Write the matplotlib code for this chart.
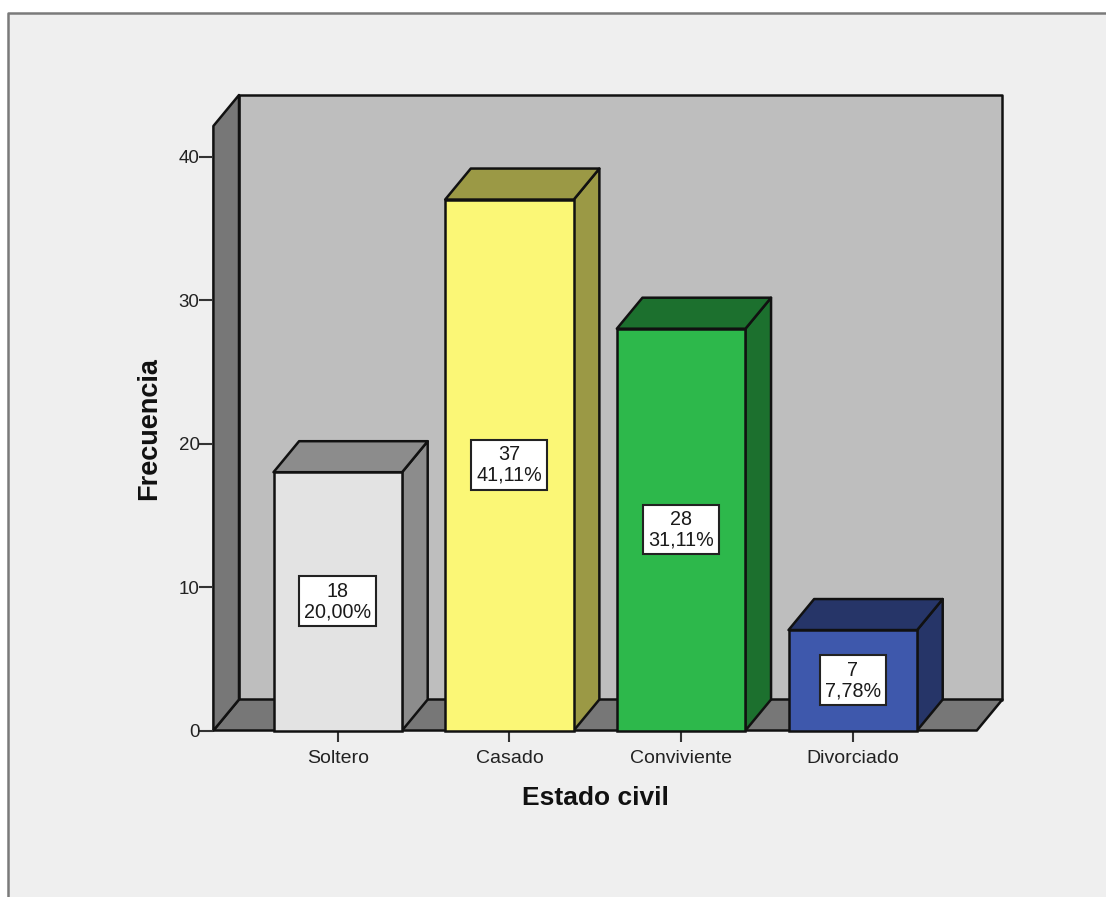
import matplotlib.pyplot as plt
from matplotlib.patches import Polygon, Rectangle
from matplotlib.lines import Line2D

categorias = ['Soltero', 'Casado', 'Conviviente', 'Divorciado']
frecuencias = [18, 37, 28, 7]
porcentajes = ['20,00%', '41,11%', '31,11%', '7,78%']
y_ticks = [0, 10, 20, 30, 40]

color_frente = ['#e3e3e3', '#fbf776', '#2db84b', '#3e58ac']
color_tapa = ['#8c8c8c', '#9b9945', '#1c702e', '#263568']

W, H = 1106, 897
FONDO = '#efefef'
BORDE = '#111111'

plt.rcParams['font.family'] = ['Liberation Sans', 'DejaVu Sans']

fig = plt.figure(figsize=(W / 100, H / 100), dpi=100, facecolor='white')

# marco del visor: solo arriba y a la izquierda, por debajo de los ejes
fig.add_artist(Rectangle((8 / W, 0), 1 - 8 / W, 1 - 13 / H, transform=fig.transFigure,
                         facecolor=FONDO, edgecolor='none', zorder=-2))
fig.add_artist(Line2D([8.2 / W, 8.2 / W, 1], [0, 1 - 13.2 / H, 1 - 13.2 / H], transform=fig.transFigure,
                      color='#7a7a7a', lw=1.8, zorder=-1))

left, right, bottom, top = 213.4, 976.8, 730.5, 126
ax = fig.add_axes([left / W, 1 - bottom / H, (right - left) / W, (bottom - top) / H])
ax.patch.set_alpha(0)

px_x = 171.67
px_y = 14.35
centro = 337.8
ax.set_xlim(-(centro - left) / px_x, (right - centro) / px_x)
ax.set_ylim(0, (bottom - top) / px_y)

# profundidad del efecto 3D en unidades de datos
dx = 25.6 / px_x
dy = 31 / px_y
ancho = 128.6 / px_x

x0, x1 = ax.get_xlim()
y1 = ax.get_ylim()[1]


def cara(puntos, color, z=1):
    ax.add_patch(Polygon(puntos, closed=True, facecolor=color, edgecolor=BORDE,
                         lw=1.8, joinstyle='round', clip_on=False, zorder=z))


# pared de fondo, piso y pared lateral
cara([(x0 + dx, dy), (x1 + dx, dy), (x1 + dx, y1 + dy), (x0 + dx, y1 + dy)], '#bebebe')
cara([(x0, 0), (x1, 0), (x1 + dx, dy), (x0 + dx, dy)], '#777777')
cara([(x0, 0), (x0 + dx, dy), (x0 + dx, y1 + dy), (x0, y1)], '#777777')

for i, v in enumerate(frecuencias):
    a = i - ancho / 2
    b = i + ancho / 2
    cara([(b, 0), (b + dx, dy), (b + dx, v + dy), (b, v)], color_tapa[i], 3)
    cara([(a, v), (b, v), (b + dx, v + dy), (a + dx, v + dy)], color_tapa[i], 3)
    ax.bar(i, v, width=ancho, color=color_frente[i], edgecolor=BORDE, lw=1.8, zorder=4, clip_on=False)
    ax.text(i, v / 2, f'{v}\n{porcentajes[i]}', ha='center', va='center', fontsize=14.2,
            linespacing=1.1, color='#1a1a1a', zorder=6,
            bbox=dict(boxstyle='square,pad=0.26', facecolor='white', edgecolor='#222222', lw=1.5))

for lado in ['top', 'right', 'left', 'bottom']:
    ax.spines[lado].set_visible(False)

ax.set_xticks(range(len(categorias)))
ax.set_xticklabels(categorias)
ax.set_yticks(y_ticks)
ax.tick_params(axis='y', length=10, width=1.5, color='#333333', labelsize=13.5, labelcolor='#222222', pad=0)
ax.tick_params(axis='x', length=8, width=1.5, color='#333333', labelsize=14, labelcolor='#222222', pad=6)

ax.set_xlabel('Estado civil', fontsize=19, fontweight='bold', color='#111111', labelpad=14)
ax.set_ylabel('Frecuencia', fontsize=19.5, fontweight='bold', color='#111111', labelpad=12)

fig.savefig('out.png', dpi=100)
